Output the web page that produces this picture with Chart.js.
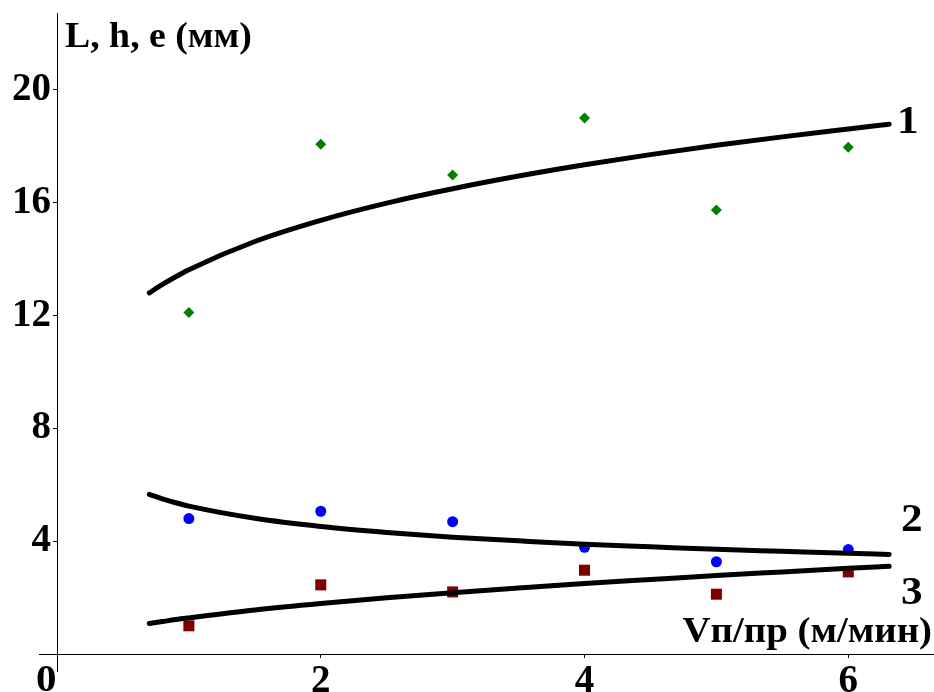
<!DOCTYPE html>
<html>
<head>
<meta charset="utf-8">
<script src="https://cdn.jsdelivr.net/npm/chart.js@4"></script>
<style>
  html, body { margin: 0; padding: 0; background: #fff; }
  #wrap { width: 934px; height: 692px; }
</style>
</head>
<body>
<div id="wrap"><canvas id="chart"></canvas></div>
<script>
// измеренные точки
const xPoints = [1, 2, 3, 4, 5, 6];
const lenPoints = [12.1, 18.07, 16.98, 19.0, 15.74, 17.96];   // 1 - L
const hPoints = [4.8, 5.06, 4.69, 3.78, 3.27, 3.7];           // 2 - h
const ePoints = [1.0, 2.45, 2.2, 2.97, 2.12, 2.91];           // 3 - e

// линии тренда
const xCurve = [0.7, 0.8, 0.9, 1, 1.5, 2, 2.5, 3, 3.5, 4, 4.5, 5, 5.5, 6, 6.31];
const lenCurve = [12.8, 13.1, 13.37, 13.62, 14.62, 15.37, 15.98, 16.49, 16.94, 17.34, 17.7, 18.03, 18.33, 18.61, 18.78];
const hCurve = [5.66, 5.5, 5.36, 5.24, 4.81, 4.52, 4.31, 4.14, 4.01, 3.89, 3.8, 3.71, 3.64, 3.57, 3.53];
const eCurve = [1.08, 1.15, 1.22, 1.28, 1.56, 1.79, 1.99, 2.17, 2.34, 2.5, 2.64, 2.78, 2.91, 3.04, 3.11];

const xTicks = [2, 4, 6];
const yTicks = [4, 8, 12, 16, 20];
const curveLabels = ['1', '2', '3'];
const yTitle = 'L, h, e (мм)';
const xTitle = 'Vп/пр (м/мин)';

const SERIF = '"Liberation Serif", "Times New Roman", serif';
const STRETCH = 1.08; // шрифт на оригинале чуть шире

const toXY = (xs, ys) => xs.map((x, i) => ({ x: x, y: ys[i] }));

function curve(ys) {
    return {
        type: 'line',
        data: toXY(xCurve, ys),
        borderColor: '#000',
        borderWidth: 5,
        borderCapStyle: 'round',
        borderJoinStyle: 'round',
        pointRadius: 0,
        cubicInterpolationMode: 'monotone',
        fill: false,
        order: 0
    };
}

function points(ys, style, radius, color) {
    return {
        type: 'scatter',
        data: toXY(xPoints, ys),
        pointStyle: style,
        pointRadius: radius,
        backgroundColor: color,
        borderWidth: 0,
        order: 1
    };
}

function stretchedText(ctx, text, x, y, align) {
    ctx.save();
    ctx.translate(x, y);
    ctx.scale(STRETCH, 1);
    ctx.textAlign = align;
    ctx.fillText(text, 0, 0);
    ctx.restore();
}

// подписи осей, кривых и "0" у начала координат
const extras = {
    id: 'extras',
    afterDraw(chart) {
        const ctx = chart.ctx;
        const a = chart.chartArea;
        ctx.save();
        ctx.strokeStyle = '#000';
        ctx.lineWidth = 1;
        ctx.beginPath();
        ctx.moveTo(39, a.bottom + 0.5);
        ctx.lineTo(a.left, a.bottom + 0.5);
        ctx.moveTo(a.left + 0.5, a.bottom);
        ctx.lineTo(a.left + 0.5, 672);
        ctx.stroke();

        ctx.fillStyle = '#000';
        ctx.textBaseline = 'alphabetic';
        ctx.font = 'bold 38px ' + SERIF;
        stretchedText(ctx, '0', 36, 691, 'left');

        ctx.font = 'bold 35px ' + SERIF;
        stretchedText(ctx, yTitle, 65, 47, 'left');
        ctx.font = 'bold 36px ' + SERIF;
        stretchedText(ctx, xTitle, 932, 642, 'right');

        ctx.font = 'bold 40px ' + SERIF;
        stretchedText(ctx, curveLabels[0], 897, 133, 'left');
        stretchedText(ctx, curveLabels[1], 901, 531, 'left');
        stretchedText(ctx, curveLabels[2], 901, 604, 'left');
        ctx.restore();
    }
};

new Chart(document.getElementById('chart'), {
    data: {
        datasets: [
            curve(lenCurve),
            curve(hCurve),
            curve(eCurve),
            points(lenPoints, 'rectRot', 5.5, '#008000'),
            points(hPoints, 'circle', 5.5, '#0000ff'),
            points(ePoints, 'rect', 7.8, '#800000')
        ]
    },
    options: {
        responsive: true,
        maintainAspectRatio: false,
        animation: false,
        layout: { autoPadding: false, padding: { top: 13, right: 0, left: 0, bottom: 0 } },
        plugins: {
            legend: { display: false },
            tooltip: { enabled: false }
        },
        scales: {
            x: {
                type: 'linear',
                min: 0,
                max: 6.65,
                afterBuildTicks: s => { s.ticks = xTicks.map(v => ({ value: v })); },
                afterFit: s => { s.height = 38; s.paddingLeft = 0; s.paddingRight = 0; },
                border: { color: '#000', width: 1 },
                grid: { drawOnChartArea: false, tickLength: 4, tickColor: '#000', tickWidth: 1 },
                ticks: { color: '#000', padding: 1, maxRotation: 0, font: { family: SERIF, size: 39, weight: 'bold' } }
            },
            y: {
                type: 'linear',
                min: 0,
                max: 22.72,
                afterBuildTicks: s => { s.ticks = yTicks.map(v => ({ value: v })); },
                afterFit: s => { s.width = 57; s.paddingTop = 0; s.paddingBottom = 0; },
                border: { color: '#000', width: 1 },
                grid: { drawOnChartArea: false, tickLength: 4, tickColor: '#000', tickWidth: 1 },
                ticks: { color: '#000', padding: 2, font: { family: SERIF, size: 39, weight: 'bold' } }
            }
        }
    },
    plugins: [extras]
});
</script>
</body>
</html>
